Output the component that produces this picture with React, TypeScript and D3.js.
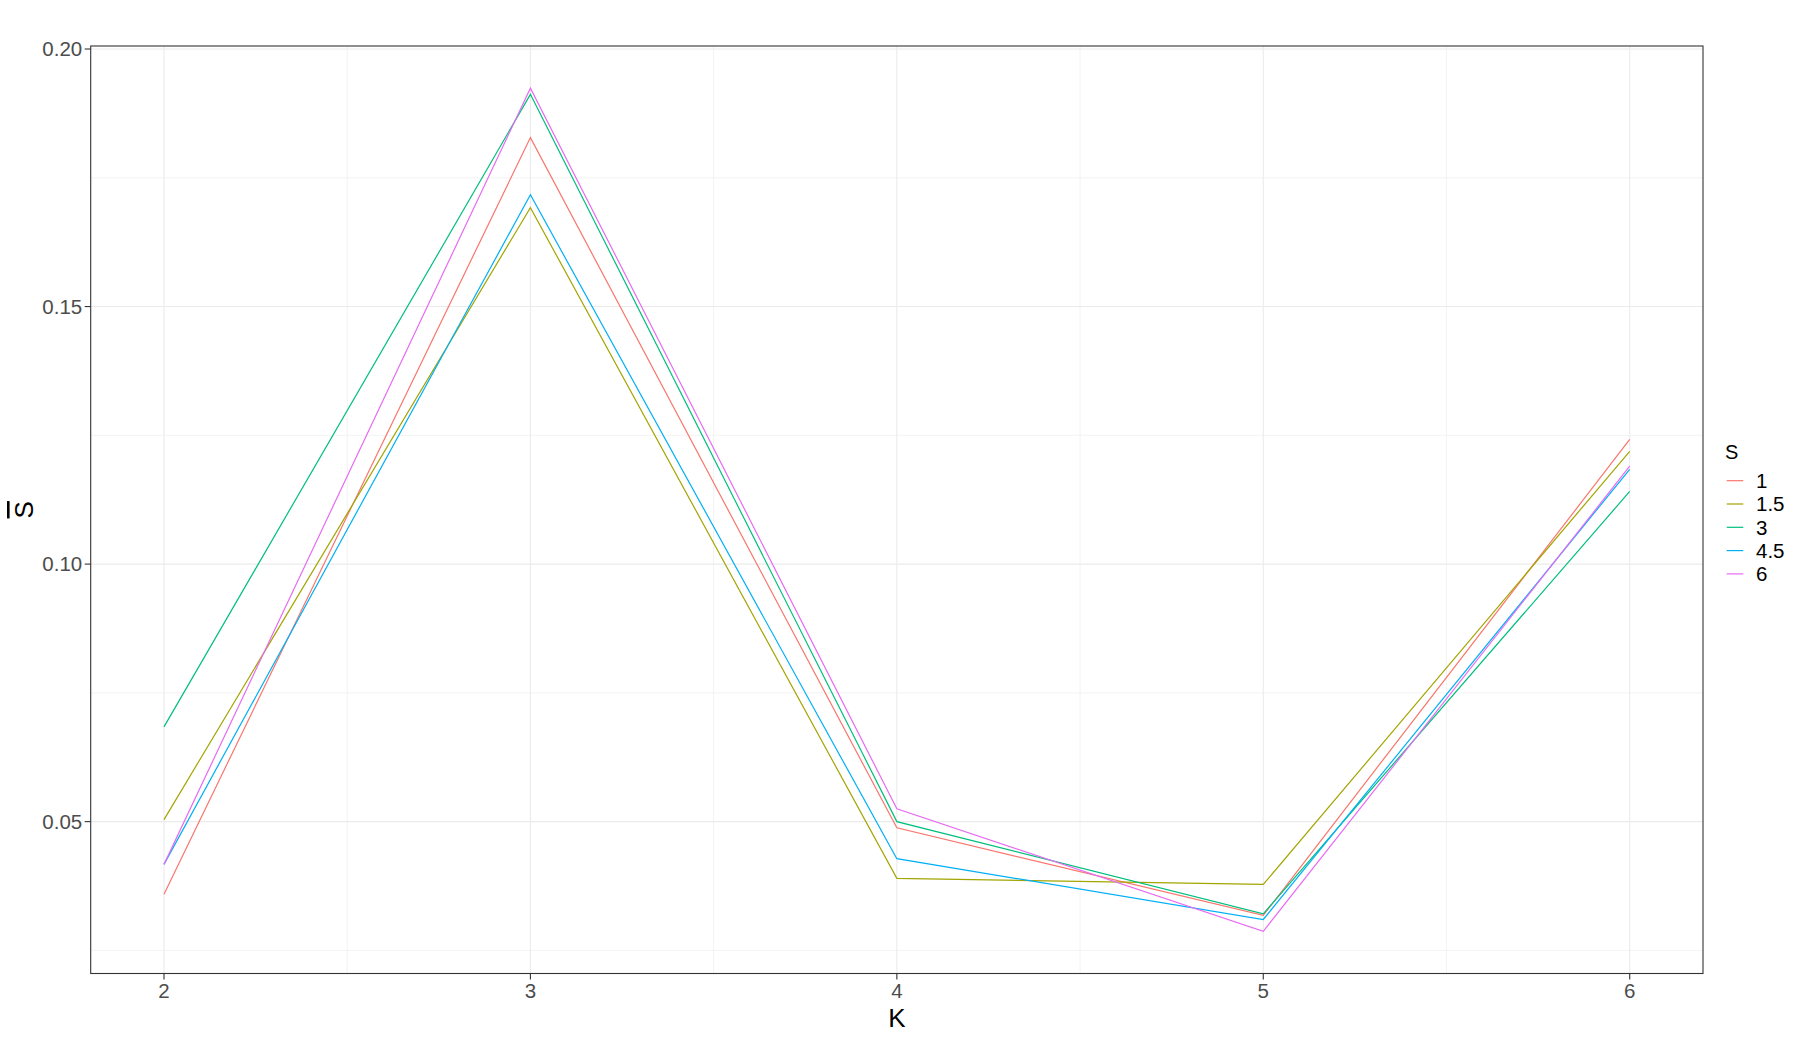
import * as d3 from "d3";

// K values on the x axis
const kValues = [2, 3, 4, 5, 6];

// S-bar per series (legend key s)
const s1 = [0.0359, 0.1828, 0.0488, 0.0318, 0.1242];
const s15 = [0.0504, 0.1692, 0.039, 0.0378, 0.1219];
const s3 = [0.0684, 0.1912, 0.05, 0.0321, 0.1141];
const s45 = [0.0417, 0.1717, 0.0428, 0.031, 0.1184];
const s6 = [0.0417, 0.1924, 0.0525, 0.0287, 0.119];

const seriesNames = ["1", "1.5", "3", "4.5", "6"];
const seriesValues = [s1, s15, s3, s45, s6];
const colors = ["#F8766D", "#A3A500", "#00BF7D", "#00B0F6", "#E76BF3"];

const yTicks = [0.05, 0.1, 0.15, 0.2];
const yMinor = [0.025, 0.075, 0.125, 0.175];
const xMinor = [2.5, 3.5, 4.5, 5.5];

const W = 1800;
const H = 1039;
const margin = { top: 46, right: 97, bottom: 65.5, left: 90.7 };
const font = "'Liberation Sans', Arial, sans-serif";

export default function App() {
  const x0 = margin.left;
  const x1 = W - margin.right;
  const y0 = H - margin.bottom;
  const y1 = margin.top;

  // ggplot style 5% expansion of the data range
  const allVals = seriesValues.flat();
  const vMin = d3.min(allVals) as number;
  const vMax = d3.max(allVals) as number;
  const pad = (vMax - vMin) * 0.05;

  const xScale = d3.scaleLinear().domain([1.8, 6.2]).range([x0, x1]);
  const yScale = d3.scaleLinear().domain([vMin - pad, vMax + pad]).range([y0, y1]);

  const line = d3
    .line<number>()
    .x((_, i) => xScale(kValues[i]))
    .y((d) => yScale(d));

  const legendX = 1726.7;
  const legendTop = 480.7;
  const legendStep = 23.3;

  return (
    <svg
      width={W}
      height={H}
      style={{ position: "absolute", left: 0, top: 0, background: "#fff" }}
      fontFamily={font}
    >
      <rect x={0} y={0} width={W} height={H} fill="#fff" />

      {/* minor grid */}
      {yMinor.map((v) => (
        <line key={"ym" + v} x1={x0} x2={x1} y1={yScale(v)} y2={yScale(v)} stroke="#EBEBEB" strokeWidth={0.6} />
      ))}
      {xMinor.map((v) => (
        <line key={"xm" + v} x1={xScale(v)} x2={xScale(v)} y1={y1} y2={y0} stroke="#EBEBEB" strokeWidth={0.6} />
      ))}
      {/* major grid */}
      {yTicks.map((v) => (
        <line key={"y" + v} x1={x0} x2={x1} y1={yScale(v)} y2={yScale(v)} stroke="#EBEBEB" strokeWidth={1.1} />
      ))}
      {kValues.map((v) => (
        <line key={"x" + v} x1={xScale(v)} x2={xScale(v)} y1={y1} y2={y0} stroke="#EBEBEB" strokeWidth={1.1} />
      ))}

      {/* series */}
      {seriesValues.map((vals, i) => (
        <path key={seriesNames[i]} d={line(vals) ?? ""} fill="none" stroke={colors[i]} strokeWidth={1.2} />
      ))}

      {/* panel border */}
      <rect x={x0} y={y1} width={x1 - x0} height={y0 - y1} fill="none" stroke="#333333" strokeWidth={1.1} />

      {/* y axis */}
      {yTicks.map((v) => (
        <g key={"yt" + v}>
          <line x1={x0 - 6} x2={x0} y1={yScale(v)} y2={yScale(v)} stroke="#333333" strokeWidth={1.1} />
          <text x={x0 - 8.5} y={yScale(v)} dy="0.36em" textAnchor="end" fontSize={20.5} fill="#4D4D4D">
            {d3.format(".2f")(v)}
          </text>
        </g>
      ))}

      {/* x axis */}
      {kValues.map((v) => (
        <g key={"xt" + v}>
          <line x1={xScale(v)} x2={xScale(v)} y1={y0} y2={y0 + 6} stroke="#333333" strokeWidth={1.1} />
          <text x={xScale(v)} y={997.5} textAnchor="middle" fontSize={20.5} fill="#4D4D4D">
            {v}
          </text>
        </g>
      ))}

      {/* axis titles */}
      <text x={(x0 + x1) / 2} y={1027} textAnchor="middle" fontSize={26} fill="#000">
        K
      </text>
      <text
        transform={`translate(33,${(y0 + y1) / 2}) rotate(-90)`}
        textAnchor="middle"
        fontSize={26}
        fill="#000"
        style={{ textDecoration: "overline" }}
      >
        S
      </text>

      {/* legend */}
      <text x={1725} y={459.3} fontSize={20} fill="#000">
        S
      </text>
      {seriesNames.map((name, i) => (
        <g key={"lg" + name}>
          <line
            x1={legendX}
            x2={legendX + 16.6}
            y1={legendTop + i * legendStep}
            y2={legendTop + i * legendStep}
            stroke={colors[i]}
            strokeWidth={1.2}
          />
          <text x={1756} y={legendTop + i * legendStep} dy="0.36em" fontSize={20.5} fill="#000">
            {name}
          </text>
        </g>
      ))}
    </svg>
  );
}
